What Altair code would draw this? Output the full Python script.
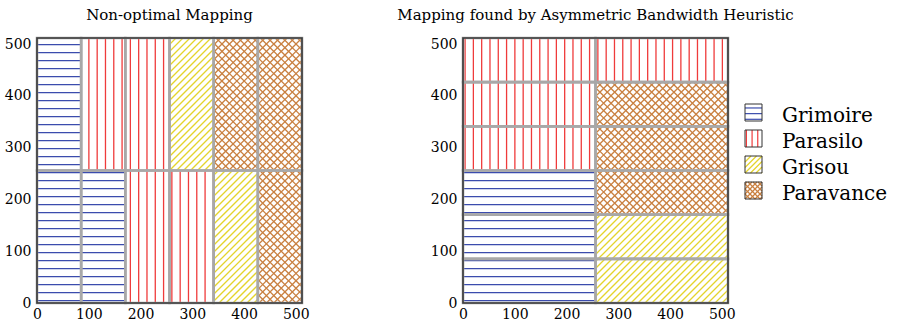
import math
import altair as alt
import pandas as pd

# ---------------- data ----------------
MEM = 512                      # memory range on both axes
nodes = ["Grimoire", "Parasilo", "Grisou", "Paravance"]
node_colors = ["#3b4cad", "#ef3b3b", "#e4d42c", "#c98040"]
node_hatch = ["h", "v", "ne", "x"]
node_width = [1.3, 1.3, 1.1, 1.0]

# Non-optimal mapping: 6 column blocks, bottom half and top half
left_bottom = ["Grimoire", "Grimoire", "Parasilo", "Parasilo", "Grisou", "Paravance"]
left_top = ["Grimoire", "Parasilo", "Parasilo", "Grisou", "Paravance", "Paravance"]
# Heuristic mapping: 6 row blocks (bottom to top), left half and right half
right_col0 = ["Grimoire", "Grimoire", "Grimoire", "Parasilo", "Parasilo", "Parasilo"]
right_col1 = ["Grisou", "Grisou", "Paravance", "Paravance", "Paravance", "Parasilo"]
tick_values = [0, 100, 200, 300, 400, 500]

titles = ["Non-optimal Mapping", "Mapping found by Asymmetric Bandwidth Heuristic"]

# ---------------- layout / style ----------------
PANEL = 265
U = MEM / PANEL                 # data units per pixel
SPACING = 161
FONT = "DejaVu Serif"
GREY = "#a8a8a8"
FRAME = "#3a3a3a"

H_SP, V_SP, D_SP, X_SP = 8.0 * U, 8.3 * U, 7.0 * U, 7.4 * U
kind_of = dict(zip(nodes, node_hatch))


def grid(lo, hi, sp, off):
    k = math.floor((lo - off) / sp)
    out = []
    v = off + k * sp
    while v < hi:
        if v > lo:
            out.append(v)
        k += 1
        v = off + k * sp
    return out


def seg_ne(x0, x1, y0, y1, sp, off):
    segs = []
    for c in grid(x0 - y1, x1 - y0, sp, off):
        xs, xe = max(x0, y0 + c), min(x1, y1 + c)
        if xe - xs > 1e-6:
            segs.append((xs, xs - c, xe, xe - c))
    return segs


def seg_nw(x0, x1, y0, y1, sp, off):
    segs = []
    for c in grid(x0 + y0, x1 + y1, sp, off):
        xs, xe = max(x0, c - y1), min(x1, c - y0)
        if xe - xs > 1e-6:
            segs.append((xs, c - xs, xe, c - xe))
    return segs


def hatch(x0, x1, y0, y1, kind, h, v, d, x):
    if kind == "h":
        return [(x0, yy, x1, yy) for yy in grid(y0, y1, h, 0.3 * h)]
    if kind == "v":
        return [(xx, y0, xx, y1) for xx in grid(x0, x1, v, 0.25 * v)]
    if kind == "ne":
        return seg_ne(x0, x1, y0, y1, d, 0)
    return seg_ne(x0, x1, y0, y1, x, 0) + seg_nw(x0, x1, y0, y1, x, 0)


W6 = MEM / 6
left_rects = [(n, i * W6, (i + 1) * W6, 0, MEM / 2) for i, n in enumerate(left_bottom)] + \
             [(n, i * W6, (i + 1) * W6, MEM / 2, MEM) for i, n in enumerate(left_top)]
right_rects = [(n, 0, MEM / 2, j * W6, (j + 1) * W6) for j, n in enumerate(right_col0)] + \
              [(n, MEM / 2, MEM, j * W6, (j + 1) * W6) for j, n in enumerate(right_col1)]

color_scale = alt.Scale(domain=nodes, range=node_colors)
width_scale = alt.Scale(domain=nodes, range=node_width)


def panel(rects, title, extra=()):
    rect_df = pd.DataFrame(rects, columns=["node", "x0", "x1", "y0", "y1"])
    segs = []
    for n, x0, x1, y0, y1 in rects:
        for s in hatch(x0, x1, y0, y1, kind_of[n], H_SP, V_SP, D_SP, X_SP):
            segs.append((n,) + s)
    seg_df = pd.DataFrame(segs, columns=["node", "x", "y", "x2", "y2"])
    frame_df = pd.DataFrame({"x0": [0], "x1": [MEM], "y0": [0], "y1": [MEM]})

    xs = alt.Scale(domain=[0, MEM], nice=False, zero=False)
    ys = alt.Scale(domain=[0, MEM], nice=False, zero=False)
    xax = alt.Axis(values=tick_values, format="d", labelFlush=False, labelOverlap=False)
    yax = alt.Axis(values=tick_values, format="d", labelFlush=False, labelOverlap=False)

    hatch_layer = alt.Chart(seg_df).mark_rule().encode(
        x=alt.X("x:Q", scale=xs, axis=xax, title=None),
        x2="x2:Q",
        y=alt.Y("y:Q", scale=ys, axis=yax, title=None),
        y2="y2:Q",
        color=alt.Color("node:N", scale=color_scale, legend=None),
        strokeWidth=alt.StrokeWidth("node:N", scale=width_scale, legend=None),
    )
    border_layer = alt.Chart(rect_df).mark_rect(
        fill="white", fillOpacity=0, stroke=GREY, strokeWidth=2.6
    ).encode(
        x=alt.X("x0:Q", scale=xs, axis=xax, title=None), x2="x1:Q",
        y=alt.Y("y0:Q", scale=ys, axis=yax, title=None), y2="y1:Q",
    )
    frame_layer = alt.Chart(frame_df).mark_rect(
        fill="white", fillOpacity=0, stroke=FRAME, strokeWidth=1.6
    ).encode(
        x=alt.X("x0:Q", scale=xs, axis=xax, title=None), x2="x1:Q",
        y=alt.Y("y0:Q", scale=ys, axis=yax, title=None), y2="y1:Q",
    )
    return alt.layer(hatch_layer, border_layer, frame_layer, *extra).properties(
        width=PANEL, height=PANEL,
        title=alt.TitleParams(title, font=FONT, fontSize=15, fontWeight="normal",
                              anchor="middle", baseline="alphabetic", offset=2, color="black"),
    )


# ---------------- legend (pixel coords relative to right panel) ----------------
LEG_X, SW, LEG_Y0, LEG_DY, TEXT_X = 282, 17, 66, 26, 319
sw_rects, sw_segs, sw_text = [], [], []
for i, n in enumerate(nodes):
    top = LEG_Y0 + i * LEG_DY
    sw_rects.append((n, LEG_X, LEG_X + SW, top, top + SW))
    for (a, b, c, d) in hatch(0, SW, 0, SW, kind_of[n], SW / 3, SW / 3, 5.5, 5.0):
        sw_segs.append((n, LEG_X + a, top + SW - b, LEG_X + c, top + SW - d))
    sw_text.append((n, TEXT_X, top + SW + 1))

sw_rect_df = pd.DataFrame(sw_rects, columns=["node", "x0", "x1", "y0", "y1"])
sw_seg_df = pd.DataFrame(sw_segs, columns=["node", "x", "y", "x2", "y2"])
sw_text_df = pd.DataFrame(sw_text, columns=["node", "x", "y"])

leg_hatch = alt.Chart(sw_seg_df).mark_rule(strokeWidth=1.2).encode(
    x=alt.X("x:Q", scale=None), x2="x2:Q",
    y=alt.Y("y:Q", scale=None), y2="y2:Q",
    color=alt.Color("node:N", scale=color_scale, legend=None),
)
leg_box = alt.Chart(sw_rect_df).mark_rect(
    fill="white", fillOpacity=0, stroke="#333333", strokeWidth=1
).encode(
    x=alt.X("x0:Q", scale=None), x2="x1:Q",
    y=alt.Y("y0:Q", scale=None), y2="y1:Q",
)
leg_text = alt.Chart(sw_text_df).mark_text(
    align="left", baseline="alphabetic", font=FONT, fontSize=20, color="black"
).encode(
    x=alt.X("x:Q", scale=None), y=alt.Y("y:Q", scale=None), text="node:N",
)

left = panel(left_rects, titles[0])
right = panel(right_rects, titles[1], extra=(leg_hatch, leg_box, leg_text))

chart = alt.hconcat(left, right, spacing=SPACING, bounds="flush").properties(
    padding={"left": 4, "top": 7, "right": 5, "bottom": 5},
    background="white",
).configure_view(stroke=None).configure_axis(
    labelFont=FONT, labelFontSize=14, labelColor="black", domain=False,
    ticks=False, grid=False,
).configure_axisX(labelPadding=4).configure_axisY(labelPadding=6)

chart.save("out.html", embed_options={"renderer": "svg", "actions": False})
